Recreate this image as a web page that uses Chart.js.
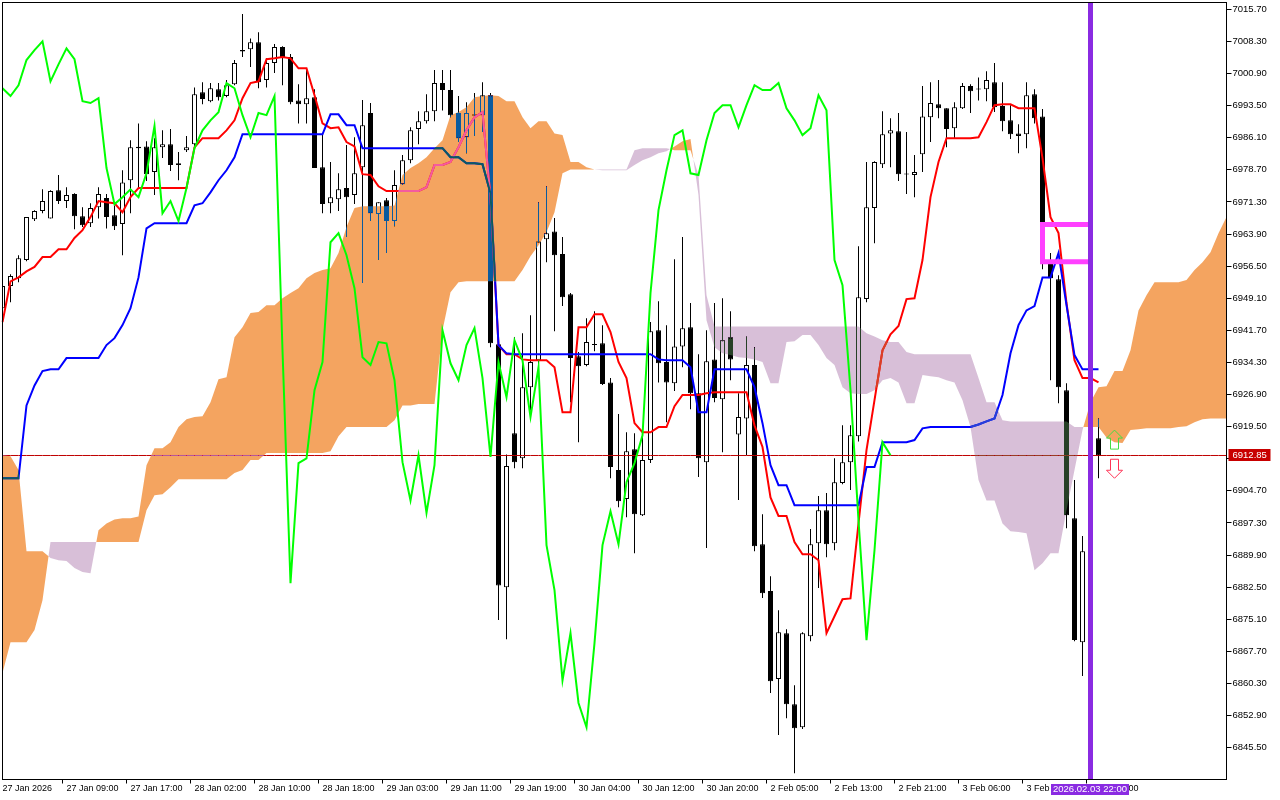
<!DOCTYPE html>
<html>
<head>
<meta charset="utf-8">
<style>
  html, body { margin: 0; padding: 0; background: #fff; }
  canvas { display: block; }
</style>
<script src="https://cdn.jsdelivr.net/npm/chart.js@4"></script>
</head>
<body>
<canvas id="myCanvas" width="1280" height="800"></canvas>
<script>
const timeLabels = ["27 Jan 2026","27 Jan 09:00","27 Jan 17:00","28 Jan 02:00","28 Jan 10:00","28 Jan 18:00","29 Jan 03:00","29 Jan 11:00","29 Jan 19:00","30 Jan 04:00","30 Jan 12:00","30 Jan 20:00","2 Feb 05:00","2 Feb 13:00","2 Feb 21:00","3 Feb 06:00","3 Feb 14:00","3 Feb 22:00"];
const priceTicks = [7015.7,7008.3,7000.9,6993.5,6986.1,6978.7,6971.3,6963.9,6956.5,6949.1,6941.7,6934.3,6926.9,6919.5,6912.1,6904.7,6897.3,6889.9,6882.5,6875.1,6867.7,6860.3,6852.9,6845.5];
const bidPrice = 6912.85;
const cursorLabel = "2026.02.03 22:00";
const cursorBar = 136;

const opens = [6946.8,6951.9,6953.7,6957.9,6967.3,6969.2,6967.5,6974.0,6971.5,6973.1,6968.0,6966.4,6970.1,6972.2,6968.2,6966.2,6976.3,6984.0,6984.1,6978.2,6983.9,6984.6,6979.8,6983.2,6984.6,6996.6,6994.5,6997.3,6995.7,6998.4,7006.3,7006.5,7008.1,6999.4,7003.3,7007.0,7004.7,6994.7,6993.8,6995.4,6979.3,6971.0,6971.9,6974.5,6972.9,6979.3,6991.8,6968.5,6971.7,6966.9,6975.4,6980.9,6988.1,6989.9,6992.2,6998.7,6997.1,6991.8,6986.2,6991.3,6991.3,6995.9,6938.5,6882.5,6918.0,6912.2,6928.6,6934.8,6962.7,6964.5,6959.3,6950.0,6935.7,6933.7,6938.5,6938.7,6929.7,6909.5,6902.8,6914.3,6899.1,6911.8,6941.7,6934.4,6929.5,6938.0,6942.4,6927.2,6911.3,6935.0,6925.8,6940.1,6917.7,6921.4,6933.7,6892.4,6881.6,6861.3,6871.9,6855.5,6850.2,6871.2,6892.6,6900.2,6892.6,6906.5,6911.3,6917.3,6948.9,6969.9,6980.0,6987.1,6987.6,6977.7,6977.5,6982.3,6990.8,6993.8,6992.9,6988.3,6992.9,6998.0,6997.3,6997.3,6998.9,6993.4,6990.1,6987.1,6986.9,6996.1,6991.0,6957.2,6953.5,6927.9,6898.4,6869.8,6890.8,6916.8];
const highs = [6952.1,6954.6,6959.0,6967.8,6969.4,6974.2,6974.0,6977.5,6974.7,6973.3,6970.1,6971.0,6974.7,6973.1,6970.5,6978.6,6985.5,6989.4,6985.3,6986.0,6987.8,6988.1,6982.8,6986.5,6997.7,6998.9,6998.7,6998.7,6999.4,7004.0,7014.6,7009.0,7010.4,7004.4,7007.7,7007.2,7005.4,6998.4,7002.1,6997.3,6987.1,6980.5,6977.9,6984.4,6986.2,6994.8,6994.1,6971.2,6972.2,6978.6,6982.1,6988.5,6992.2,6996.1,7001.7,7001.7,7001.7,6995.7,6994.3,6996.4,6998.9,6996.4,6939.4,6913.1,6940.1,6941.0,6945.2,6971.2,6974.9,6967.6,6963.2,6950.3,6936.7,6944.5,6946.1,6942.9,6930.7,6922.4,6918.2,6918.0,6918.7,6943.6,6948.4,6942.9,6958.1,6963.2,6948.0,6936.2,6941.7,6948.0,6949.1,6946.1,6927.2,6940.3,6937.8,6899.3,6885.0,6877.2,6872.8,6859.9,6872.1,6895.9,6903.5,6904.2,6912.2,6919.8,6919.8,6961.1,6980.5,6980.7,6992.2,6990.6,6991.8,6987.4,6982.1,6998.0,6998.9,6999.4,6992.9,6994.3,6998.7,6998.4,7000.0,7001.4,7003.3,6998.9,6993.6,6989.2,6998.9,6997.3,6992.7,6959.5,6954.4,6929.5,6907.2,6894.3,6921.0,6921.4];
const lows = [6945.9,6948.2,6952.8,6957.6,6966.9,6968.7,6967.5,6970.8,6969.9,6965.0,6965.5,6965.5,6967.5,6965.2,6964.8,6959.0,6968.7,6974.5,6976.1,6972.9,6981.4,6978.4,6976.3,6982.8,6983.7,6993.8,6994.3,6994.7,6995.4,6998.2,7004.7,7002.4,6997.5,6997.7,7001.0,6998.2,6993.8,6989.4,6989.4,6979.1,6968.7,6968.7,6969.2,6963.2,6970.8,6952.6,6966.9,6957.9,6959.5,6965.7,6975.2,6980.2,6984.6,6989.4,6989.9,6992.4,6990.8,6985.1,6982.5,6986.5,6987.4,6937.8,6874.9,6870.5,6909.9,6909.9,6923.3,6933.2,6957.4,6941.5,6947.3,6925.1,6915.9,6933.4,6936.9,6929.1,6907.6,6900.9,6898.6,6890.3,6898.9,6911.1,6929.7,6920.5,6927.7,6933.2,6923.5,6907.9,6891.5,6925.1,6913.6,6930.2,6902.6,6912.9,6890.8,6880.0,6858.1,6848.4,6852.3,6839.6,6849.8,6870.0,6882.3,6889.4,6891.0,6906.2,6904.9,6916.1,6948.2,6961.8,6979.1,6979.3,6976.1,6973.1,6972.4,6978.2,6985.1,6990.6,6983.9,6986.0,6992.7,6991.8,6994.7,6994.5,6992.0,6987.6,6985.8,6982.5,6983.7,6989.4,6955.8,6930.2,6924.9,6896.1,6870.0,6862.0,6889.9,6907.6];
const closes = [6951.9,6954.2,6958.3,6967.8,6969.2,6971.5,6973.8,6971.5,6972.9,6968.0,6965.9,6969.9,6973.1,6967.8,6965.7,6975.8,6983.9,6983.7,6977.7,6983.9,6984.6,6979.8,6980.2,6983.9,6996.1,6995.0,6997.5,6995.4,6998.2,7003.3,7006.0,7008.1,6998.9,7003.3,7007.0,7004.7,6994.3,6993.8,6995.2,6979.1,6970.8,6972.4,6974.2,6972.4,6977.9,6989.0,6968.7,6971.2,6966.9,6975.2,6980.9,6987.8,6989.9,6992.2,6998.7,6997.1,6991.3,6986.0,6991.8,6991.2,6995.9,6938.7,6882.9,6910.4,6911.3,6928.6,6934.4,6962.2,6964.1,6959.0,6949.3,6935.3,6933.4,6939.0,6938.3,6929.3,6910.2,6902.3,6913.8,6899.3,6911.8,6941.5,6934.1,6929.7,6938.0,6942.2,6927.2,6912.2,6934.6,6926.1,6939.4,6935.0,6921.7,6933.7,6891.9,6881.1,6860.8,6872.1,6855.5,6850.0,6871.9,6892.4,6900.2,6892.4,6906.7,6911.3,6917.5,6949.3,6970.1,6980.5,6986.9,6987.8,6977.7,6977.6,6978.2,6991.0,6994.1,6992.9,6988.1,6993.1,6998.0,6996.8,6997.2,6999.4,6993.1,6989.9,6986.9,6986.5,6995.9,6990.6,6957.2,6953.7,6928.6,6899.1,6870.3,6890.8,6916.8,6912.9];

const tenkan = [6943.6,6953.0,6953.9,6955.3,6956.3,6958.6,6958.6,6960.4,6960.4,6963.0,6964.8,6967.8,6971.5,6971.2,6971.0,6968.9,6972.4,6974.5,6974.5,6974.5,6974.5,6974.5,6974.5,6974.5,6983.9,6986.0,6986.0,6986.0,6987.8,6990.1,6995.2,6998.7,6999.1,7004.2,7004.4,7004.7,7004.4,7002.1,7002.1,6995.9,6989.4,6988.3,6988.5,6985.1,6984.1,6977.7,6977.5,6974.9,6973.8,6973.8,6973.8,6973.8,6973.8,6974.7,6979.8,6979.8,6980.5,6983.9,6987.8,6990.8,6992.0,6972.4,6938.3,6936.2,6936.2,6935.0,6934.8,6934.8,6934.8,6933.2,6922.8,6922.8,6942.4,6942.4,6945.4,6945.4,6941.3,6934.4,6930.7,6920.3,6918.2,6918.2,6919.4,6919.4,6924.2,6926.8,6926.8,6926.8,6927.2,6927.4,6927.4,6927.4,6927.4,6927.4,6919.8,6914.8,6903.2,6898.9,6898.9,6892.9,6890.1,6890.1,6888.7,6871.9,6875.8,6879.7,6879.9,6897.2,6914.1,6925.6,6937.1,6940.8,6942.7,6948.9,6949.1,6957.9,6972.4,6980.5,6986.0,6986.0,6986.0,6986.0,6986.2,6989.7,6993.6,6993.8,6993.8,6992.9,6992.9,6992.9,6981.4,6967.8,6964.1,6948.0,6934.8,6930.7,6930.7,6929.7];
const kijun = [6907.6,6907.6,6907.6,6924.4,6929.0,6932.3,6932.7,6932.7,6935.3,6935.3,6935.3,6935.3,6935.3,6938.3,6939.9,6942.9,6946.8,6953.9,6965.2,6966.4,6966.4,6966.4,6966.4,6966.4,6970.5,6971.0,6973.5,6976.3,6978.6,6981.6,6986.9,6986.9,6986.9,6986.9,6986.9,6986.9,6986.9,6986.9,6986.9,6986.9,6986.9,6991.5,6991.5,6989.0,6989.0,6983.7,6983.7,6983.7,6983.7,6983.7,6983.7,6983.7,6983.7,6983.7,6983.7,6983.7,6981.6,6981.6,6980.2,6980.2,6980.0,6973.3,6938.3,6936.4,6936.2,6936.2,6936.2,6936.2,6936.2,6936.2,6936.2,6936.2,6936.2,6936.2,6936.2,6936.2,6936.2,6936.2,6936.2,6936.2,6936.2,6936.2,6935.0,6934.8,6934.8,6934.8,6933.2,6922.8,6922.8,6932.7,6932.7,6932.7,6932.7,6932.7,6928.6,6920.3,6910.6,6906.0,6906.0,6901.4,6901.4,6901.4,6901.4,6901.4,6901.4,6901.4,6901.4,6901.4,6910.2,6910.2,6915.9,6915.9,6915.9,6915.9,6916.4,6919.1,6919.4,6919.4,6919.4,6919.4,6919.4,6919.4,6920.0,6920.7,6921.4,6926.8,6936.4,6942.9,6946.3,6947.3,6953.9,6953.9,6959.5,6947.5,6936.0,6932.7,6932.7,6932.7];
const chikou = [6997.5,6995.7,6998.2,7004.0,7006.3,7008.3,6999.1,7003.0,7006.7,7004.2,6994.5,6994.1,6995.2,6979.1,6970.8,6972.4,6974.2,6972.4,6977.9,6988.8,6968.7,6971.5,6966.9,6974.5,6983.7,6987.8,6990.1,6992.0,6998.7,6997.5,6991.3,6986.2,6991.8,6991.3,6995.7,6937.1,6883.4,6911.1,6912.2,6927.9,6934.4,6962.0,6964.1,6959.0,6951.4,6935.5,6933.7,6939.0,6938.7,6930.2,6911.3,6902.5,6912.9,6899.6,6910.6,6941.7,6934.1,6930.2,6938.3,6942.2,6930.7,6912.5,6934.4,6926.3,6939.4,6934.8,6921.7,6933.2,6892.2,6881.8,6861.0,6871.9,6855.8,6850.2,6869.6,6892.2,6900.0,6892.4,6906.7,6911.1,6917.5,6950.3,6969.4,6978.6,6986.7,6987.8,6977.9,6977.5,6985.5,6991.8,6993.6,6993.6,6988.5,6993.6,6998.2,6997.1,6997.1,6998.7,6992.9,6990.1,6986.7,6988.3,6995.9,6992.4,6957.9,6952.1,6927.9,6897.9,6870.3,6891.0,6915.9,6912.9];
const spanA = [6912.9,6912.7,6909.5,6890.8,6890.8,6890.8,6889.2,6888.7,6888.5,6886.9,6886.0,6885.7,6895.6,6897.2,6898.1,6898.4,6898.4,6898.8,6910.6,6914.5,6914.5,6915.9,6919.4,6921.2,6921.7,6921.9,6925.1,6930.4,6930.9,6940.1,6942.4,6945.7,6945.9,6947.5,6947.5,6949.1,6950.3,6951.4,6953.7,6954.9,6955.6,6956.0,6959.5,6965.5,6969.9,6970.3,6970.3,6970.3,6970.3,6970.5,6977.5,6979.1,6980.2,6981.6,6983.7,6985.5,6991.3,6992.0,6993.1,6995.4,6995.7,6995.9,6995.7,6994.5,6994.5,6990.8,6988.3,6989.9,6989.9,6987.1,6986.7,6980.5,6980.5,6979.3,6978.8,6978.6,6978.6,6978.6,6978.6,6979.8,6980.9,6981.6,6982.5,6983.0,6984.1,6985.3,6985.8,6972.9,6944.0,6937.8,6936.4,6936.0,6935.5,6935.3,6935.0,6934.4,6929.5,6929.5,6939.0,6939.2,6940.6,6940.6,6938.3,6935.3,6933.7,6928.6,6927.2,6927.0,6927.0,6927.9,6930.2,6930.7,6929.7,6924.9,6924.9,6931.4,6931.1,6930.9,6930.2,6929.7,6925.6,6919.4,6907.2,6902.5,6902.5,6897.2,6895.4,6895.2,6894.9,6886.4,6888.0,6890.3,6890.3,6900.2,6909.5,6918.7,6925.1,6928.6,6928.8,6932.3,6932.3,6937.1,6946.3,6949.8,6952.8,6952.8,6952.8,6952.8,6953.3,6955.6,6957.4,6959.7,6964.1,6967.8];
const spanB = [6862.7,6869.8,6869.8,6869.8,6872.6,6879.5,6892.9,6892.9,6892.9,6892.9,6892.9,6892.9,6892.9,6892.9,6892.9,6892.9,6892.9,6892.9,6900.2,6903.7,6903.9,6905.5,6907.4,6907.4,6907.4,6907.4,6907.4,6907.4,6907.4,6908.8,6909.5,6911.8,6911.8,6913.4,6913.4,6913.4,6913.4,6913.4,6913.4,6913.4,6913.4,6913.8,6917.3,6919.4,6919.4,6919.4,6919.4,6919.4,6919.4,6921.0,6924.4,6924.4,6924.7,6924.7,6924.7,6941.7,6950.5,6952.8,6953.0,6953.0,6953.0,6953.0,6953.0,6953.0,6953.0,6955.6,6958.8,6961.3,6964.3,6968.9,6977.9,6978.8,6978.8,6978.8,6978.8,6978.8,6978.8,6978.8,6978.8,6983.2,6983.7,6983.7,6983.7,6983.7,6983.2,6983.2,6983.2,6977.5,6949.8,6942.6,6942.6,6942.6,6942.6,6942.6,6942.6,6942.6,6942.6,6942.6,6942.6,6942.6,6942.6,6942.6,6942.6,6942.6,6942.6,6942.6,6942.6,6942.6,6941.0,6940.3,6939.4,6939.0,6939.0,6936.7,6936.2,6936.2,6936.2,6936.2,6936.2,6936.2,6936.2,6936.2,6930.7,6925.1,6925.1,6921.0,6920.7,6920.7,6920.7,6920.7,6920.7,6920.7,6920.7,6920.7,6919.4,6919.4,6919.4,6919.4,6917.0,6915.9,6915.7,6918.7,6918.9,6919.1,6919.1,6919.1,6919.1,6919.4,6919.6,6920.5,6921.2,6921.4,6921.4,6921.4];

// one label per bar, the future bars of the cloud included
const bars = spanA.map((v, i) => i);
const axisFont = { family: "'Liberation Sans', sans-serif", size: 9.5 };
const timeFont = { family: "'Liberation Sans', sans-serif", size: 9 };

const TENKAN = 2, KIJUN = 3, SPAN_A = 4, SPAN_B = 5;

// splits the cloud where the two spans cross, each run is one polygon
function cloudRuns(chart) {
  const a = chart.getDatasetMeta(SPAN_A).data;
  const b = chart.getDatasetMeta(SPAN_B).data;
  const runs = [];
  let top = [], low = [], sign = 0;
  for (let i = 0; i < a.length; i++) {
    const s = a[i].y <= b[i].y ? 1 : -1;
    if (sign && s !== sign) {
      const d0 = a[i - 1].y - b[i - 1].y, d1 = a[i].y - b[i].y;
      const t = d0 / (d0 - d1);
      const cross = { x: a[i - 1].x + (a[i].x - a[i - 1].x) * t, y: a[i - 1].y + (a[i].y - a[i - 1].y) * t };
      top.push(cross);
      low.push(cross);
      runs.push({ sign, top, low });
      top = [cross];
      low = [cross];
    }
    sign = s;
    top.push(a[i]);
    low.push(b[i]);
  }
  runs.push({ sign, top, low });
  return runs;
}

function tracePolygon(ctx, run) {
  ctx.beginPath();
  run.top.forEach((p, i) => (i ? ctx.lineTo(p.x, p.y) : ctx.moveTo(p.x, p.y)));
  run.low.slice().reverse().forEach(p => ctx.lineTo(p.x, p.y));
  ctx.closePath();
}

function clipToArea(chart) {
  const area = chart.chartArea;
  chart.ctx.beginPath();
  chart.ctx.rect(area.left, area.top, area.width, area.height);
  chart.ctx.clip();
}

// cloud is painted like MT5 does it, xor-ish over whatever is under it
function fillCloud(chart) {
  const ctx = chart.ctx;
  ctx.save();
  clipToArea(chart);
  ctx.globalCompositeOperation = "difference";
  cloudRuns(chart).forEach(run => {
    tracePolygon(ctx, run);
    ctx.fillStyle = run.sign > 0 ? "#0B5B9F" : "#274027";
    ctx.fill();
  });
  ctx.restore();
}

function strokeMeta(chart, index, color) {
  const ctx = chart.ctx;
  ctx.beginPath();
  chart.getDatasetMeta(index).data.forEach((p, i) => (i ? ctx.lineTo(p.x, p.y) : ctx.moveTo(p.x, p.y)));
  ctx.strokeStyle = color;
  ctx.lineWidth = 2;
  ctx.stroke();
}

// same lines again inside the cloud, with the colours the xor gives them
function recolorLines(chart) {
  const ctx = chart.ctx;
  cloudRuns(chart).forEach(run => {
    ctx.save();
    clipToArea(chart);
    tracePolygon(ctx, run);
    ctx.clip();
    strokeMeta(chart, TENKAN, run.sign > 0 ? "#F45B9F" : "#D84027");
    strokeMeta(chart, KIJUN, run.sign > 0 ? "#0B5B60" : "#2740D8");
    ctx.restore();
  });
}

function drawArrow(ctx, x, tip, dir, color) {
  ctx.beginPath();
  ctx.moveTo(x, tip);
  ctx.lineTo(x + 8, tip + dir * 8);
  ctx.lineTo(x + 4, tip + dir * 8);
  ctx.lineTo(x + 4, tip + dir * 19);
  ctx.lineTo(x - 4, tip + dir * 19);
  ctx.lineTo(x - 4, tip + dir * 8);
  ctx.lineTo(x - 8, tip + dir * 8);
  ctx.closePath();
  ctx.strokeStyle = color;
  ctx.lineWidth = 1;
  ctx.stroke();
}

const mt5Plugin = {
  id: "mt5",
  beforeDraw(chart) {
    const ctx = chart.ctx;
    ctx.save();
    ctx.fillStyle = "#fff";
    ctx.fillRect(0, 0, chart.width, chart.height);
    ctx.restore();
  },
  afterDatasetDraw(chart, args) {
    if (args.index === SPAN_A) fillCloud(chart);
    if (args.index === KIJUN) recolorLines(chart);
  },
  afterDatasetsDraw(chart) {
    const ctx = chart.ctx, area = chart.chartArea;
    const x = chart.scales.x, y = chart.scales.y;
    const cursorX = x.getPixelForValue(cursorBar);
    ctx.save();

    // pink box
    ctx.strokeStyle = "#FF40FF";
    ctx.lineWidth = 5;
    ctx.beginPath();
    ctx.moveTo(cursorX, y.getPixelForValue(6966.1));
    ctx.lineTo(x.getPixelForValue(130), y.getPixelForValue(6966.1));
    ctx.lineTo(x.getPixelForValue(130), y.getPixelForValue(6957.5));
    ctx.lineTo(cursorX, y.getPixelForValue(6957.5));
    ctx.closePath();
    ctx.stroke();

    // cursor line
    ctx.strokeStyle = "#8A2BE2";
    ctx.lineWidth = 5;
    ctx.beginPath();
    ctx.moveTo(cursorX, area.top);
    ctx.lineTo(cursorX, area.bottom);
    ctx.stroke();

    drawArrow(ctx, x.getPixelForValue(139), y.getPixelForValue(6918.7), 1, "#44DD44");
    drawArrow(ctx, x.getPixelForValue(139), y.getPixelForValue(6907.6), -1, "#FF3355");

    // frame
    ctx.strokeStyle = "#000";
    ctx.lineWidth = 1;
    ctx.strokeRect(area.left, area.top, area.width, area.height);

    // bid tag on the price axis
    const bidY = Math.round(y.getPixelForValue(bidPrice));
    ctx.fillStyle = "#C80000";
    ctx.fillRect(area.right + 2, bidY - 6, 42, 12);
    ctx.fillStyle = "#fff";
    ctx.font = "9.5px 'Liberation Sans', sans-serif";
    ctx.textBaseline = "middle";
    ctx.fillText(bidPrice.toFixed(2), area.right + 6, bidY);

    // time tag under the cursor line
    ctx.fillStyle = "#8A2BE2";
    ctx.fillRect(cursorX - 39.5, 784, 78, 11);
    ctx.fillStyle = "#fff";
    ctx.fillText(cursorLabel, cursorX - 37.5, 789.5);
    ctx.restore();
  }
};

new Chart(document.getElementById("myCanvas"), {
  data: {
    labels: bars,
    datasets: [
      { type: "bar", order: 60, data: lows.map((l, i) => [l, highs[i]]), backgroundColor: "#000", barThickness: 1, grouped: false, inflateAmount: 0 },
      { type: "bar", order: 50, data: opens.map((o, i) => [o, closes[i]]), backgroundColor: opens.map((o, i) => closes[i] >= o ? "#fff" : "#000"), borderColor: "#000", borderWidth: 1, borderSkipped: false, barThickness: 5, minBarLength: 1, grouped: false, inflateAmount: 0 },
      { type: "line", order: 15, data: tenkan, borderColor: "#FF0000", borderWidth: 2, pointRadius: 0, tension: 0 },
      { type: "line", order: 14, data: kijun, borderColor: "#0000FF", borderWidth: 2, pointRadius: 0, tension: 0 },
      { type: "line", order: 20, data: spanA, borderWidth: 0, borderColor: "rgba(0,0,0,0)", pointRadius: 0, tension: 0 },
      { type: "line", order: 21, data: spanB, borderWidth: 0, borderColor: "rgba(0,0,0,0)", pointRadius: 0, tension: 0 },
      { type: "line", order: 35, data: bars.map(() => bidPrice), borderColor: "#C00000", borderWidth: 1, pointRadius: 0, tension: 0 },
      { type: "line", order: 10, data: chikou, borderColor: "#00FF00", borderWidth: 2, pointRadius: 0, tension: 0 }
    ]
  },
  options: {
    responsive: false,
    animation: false,
    devicePixelRatio: 1,
    layout: { autoPadding: false, padding: { left: 2.5, top: 2.5, right: 0, bottom: 0 } },
    plugins: { legend: { display: false }, tooltip: { enabled: false } },
    scales: {
      x: {
        type: "category",
        offset: false,
        border: { display: false },
        grid: {
          drawOnChartArea: false,
          tickLength: 4,
          tickColor: c => (c.index % 8 === 0 && c.index <= cursorBar ? "#000" : "rgba(0,0,0,0)")
        },
        ticks: {
          autoSkip: false,
          maxRotation: 0,
          minRotation: 0,
          align: "start",
          padding: 0,
          color: "#000",
          font: timeFont,
          callback: (v, i) => (i % 8 === 0 && timeLabels[i / 8]) || ""
        },
        afterFit: s => { s.height = 20.5; s.paddingLeft = 0; s.paddingRight = 0; }
      },
      y: {
        type: "linear",
        position: "right",
        min: 6838.16,
        max: 7017.27,
        border: { display: false },
        grid: { drawOnChartArea: false, tickLength: 5, tickColor: "#000" },
        ticks: { autoSkip: false, padding: 1, color: "#000", font: axisFont, callback: v => v.toFixed(2) },
        afterBuildTicks: s => { s.ticks = priceTicks.map(value => ({ value })); },
        afterFit: s => { s.width = 53.5; s.paddingTop = 0; s.paddingBottom = 0; }
      }
    }
  },
  plugins: [mt5Plugin]
});
</script>
</body>
</html>
